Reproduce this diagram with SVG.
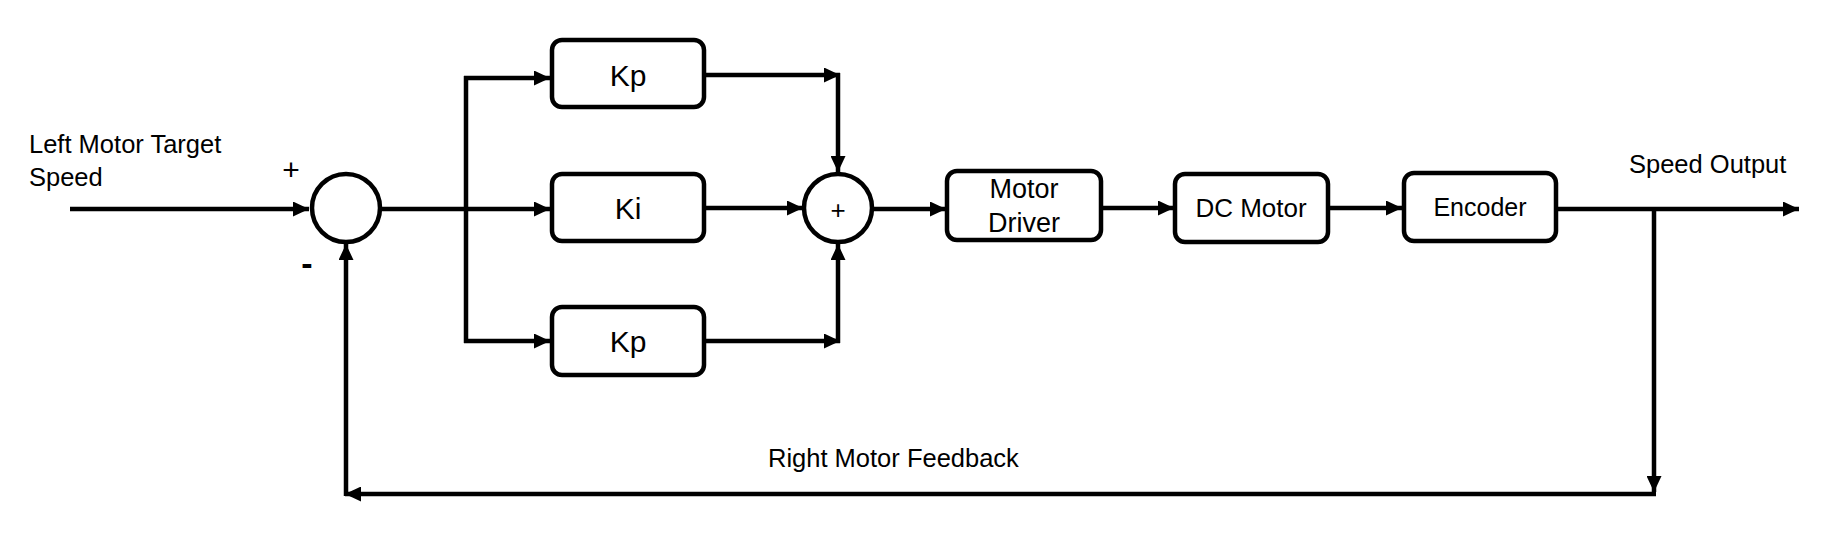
<svg xmlns="http://www.w3.org/2000/svg" width="1837" height="545" viewBox="0 0 1837 545">
<style>
.box{fill:#fff;stroke:#000;stroke-width:4.5}
.sum{fill:#fff;stroke:#000;stroke-width:4.5}
.ln{fill:none;stroke:#000;stroke-width:4.5}
.arr{marker-end:url(#ah)}
text{font-family:"Liberation Sans",Arial,sans-serif;fill:#000}
.lbl{font-size:25.5px}
.sg{font-size:30px;text-anchor:middle}
.bl{font-size:25px;text-anchor:middle}
.k{font-size:30px;text-anchor:middle}
</style>
<defs>
<marker id="ah" markerUnits="userSpaceOnUse" markerWidth="17" markerHeight="15" refX="16" refY="7.5" orient="auto" viewBox="0 0 17 15">
<path d="M0,0 L16,7.5 L0,15 z" fill="#000"/>
</marker>
</defs>
<rect width="1837" height="545" fill="#fff"/>
<g id="connectors">
<path class="ln arr" d="M70,209 H309"/>
<path class="ln arr" d="M380,209 H550"/>
<path class="ln" d="M466,76 V343"/>
<path class="ln arr" d="M464,78 H550"/>
<path class="ln arr" d="M464,341 H550"/>
<path class="ln arr" d="M706,75 H840"/>
<path class="ln arr" d="M838,73 V172"/>
<path class="ln arr" d="M706,208 H803"/>
<path class="ln arr" d="M706,341 H840"/>
<path class="ln arr" d="M838,343 V244"/>
<path class="ln arr" d="M872,209 H946"/>
<path class="ln arr" d="M1103,208 H1174"/>
<path class="ln arr" d="M1330,208 H1402"/>
<path class="ln arr" d="M1558,209 H1799"/>
<path class="ln arr" d="M1654,207 V492"/>
<path class="ln arr" d="M1656,494 H345"/>
<path class="ln arr" d="M346,496 V244"/>
</g>
<g id="sum1">
<circle class="sum" cx="346" cy="208" r="34"/>
<text class="sg" x="291" y="180">+</text>
<text class="sg" x="307" y="275" style="font-size:34px;font-weight:bold">-</text>
</g>
<g id="kp-top">
<rect class="box" x="552" y="40" width="152" height="67" rx="10"/>
<text class="k" x="628" y="86">Kp</text>
</g>
<g id="ki">
<rect class="box" x="552" y="174" width="152" height="67" rx="10"/>
<text class="k" x="628" y="219">Ki</text>
</g>
<g id="kp-bottom">
<rect class="box" x="552" y="307" width="152" height="68" rx="10"/>
<text class="k" x="628" y="352">Kp</text>
</g>
<g id="sum2">
<circle class="sum" cx="838" cy="208" r="34"/>
<text class="sg" x="838" y="219" style="font-size:26px">+</text>
</g>
<g id="motor-driver">
<rect class="box" x="947" y="171" width="154" height="69" rx="10"/>
<text class="bl" x="1024" y="198" style="font-size:27px">Motor</text>
<text class="bl" x="1024" y="232" style="font-size:27px">Driver</text>
</g>
<g id="dc-motor">
<rect class="box" x="1175" y="174" width="153" height="68" rx="10"/>
<text class="bl" x="1251" y="217" style="font-size:26px">DC Motor</text>
</g>
<g id="encoder">
<rect class="box" x="1404" y="173" width="152" height="68" rx="10"/>
<text class="bl" x="1480" y="216">Encoder</text>
</g>
<g id="labels">
<text class="lbl" x="29" y="153">Left Motor Target</text>
<text class="lbl" x="29" y="186">Speed</text>
<text class="lbl" x="1629" y="173">Speed Output</text>
<text class="lbl" x="768" y="467">Right Motor Feedback</text>
</g>
</svg>
